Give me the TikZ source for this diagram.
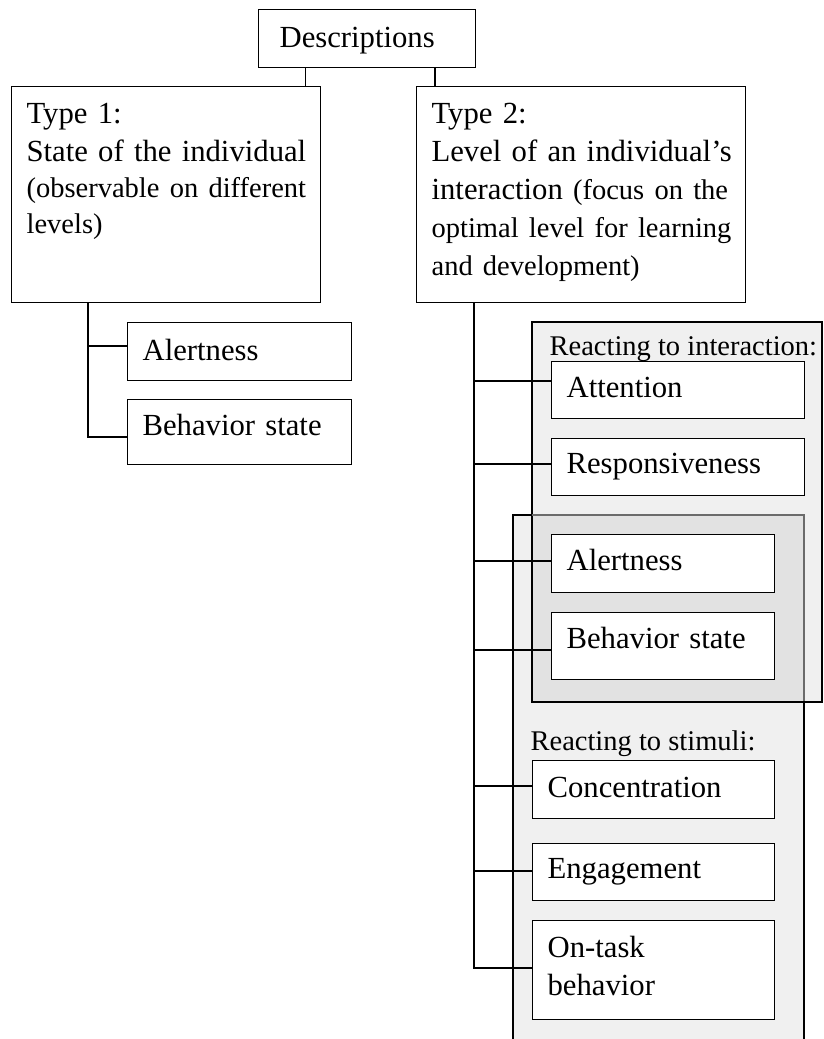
\documentclass[tikz,border=0pt]{standalone}
\usepackage{fontspec}
\setmainfont{Liberation Serif}
\setlength{\parindent}{0pt}
\newcommand{\bigtext}{\fontsize{30.7}{38}\selectfont}
\newcommand{\smalltext}{\fontsize{28.5}{36}\selectfont}

\begin{document}
\begin{tikzpicture}[x=1pt, y=-1pt, line width=1.2pt, font=\bigtext,
		item/.style={draw, fill=white, anchor=north west, align=left, inner xsep=15pt, inner ysep=0pt, text height=36pt},
		panel/.style={draw, fill=black, fill opacity=0.06},
		grouplabel/.style={anchor=base west, inner sep=0pt, font=\smalltext}]
	\useasboundingbox (0,0) rectangle (823,1039);
	\clip (0,0) rectangle (823,1039);
	% shaded groups (stimuli behind, interaction in front)
	\draw[panel] (513,515) rectangle (804,1060);
	\draw[panel] (532,322) rectangle (822,702);
	\draw[black!58] (532,515) -- (804,515) -- (804,701.4);
	\node[grouplabel] (interlabel) at (549,355) {Reacting to interaction:};
	\node[grouplabel] (stimlabel) at (530,750) {Reacting to stimuli:};
	% top levels
	\node[item, text width=175pt, inner xsep=21pt, text height=38pt, text depth=20pt] (desc) at (258,9) {Descriptions};
	\node[item, text width=279pt, text height=37pt, text depth=179pt] (type1) at (11,86)
		{\mbox{Type 1:}\\\mbox{State of the individual}\par
		\smalltext\mbox{(observable on different}\\\mbox{levels)}\par};
	\node[item, text width=299pt, text height=37pt, text depth=179pt] (type2) at (416,86)
		{\mbox{Type 2:}\\\mbox{Level of an individual’s}\\\mbox{interaction {\smalltext (focus on the}}\\
		\mbox{\smalltext optimal level for learning}\\\mbox{\smalltext and development)}};
	\draw ([xshift=-16pt]type1.north east) -- ([xshift=-16pt]type1.north east |- desc.south);
	\draw ([xshift=19pt]type2.north west) -- ([xshift=19pt]type2.north west |- desc.south);
	% type 1 items
	\node[item, text width=194pt, text height=38pt, text depth=20pt] (alert1) at (127,322) {Alertness};
	\node[item, text width=194pt, text depth=29pt] (behav1) at (127,399) {Behavior state};
	% type 2 items
	\node[item, text width=223pt, text depth=21pt] (attn) at (551,361) {Attention};
	\node[item, text width=223pt, text height=35pt, text depth=22pt] (resp) at (551,438) {Responsiveness};
	\node[item, text width=193pt, text depth=22pt] (alert2) at (551,534) {Alertness};
	\node[item, text width=193pt, text depth=31pt] (behav2) at (551,612) {Behavior state};
	\node[item, text width=212pt, text height=37pt, text depth=21pt] (conc) at (532,760) {Concentration};
	\node[item, text width=212pt, text height=35pt, text depth=22pt] (engage) at (532,843) {Engagement};
	\node[item, text width=212pt, text height=37pt, text depth=62pt] (ontask) at (532,920) {On-task\\behavior};
	% trunks and branches
	\coordinate (trunk1) at ([xshift=77pt]type1.south west);
	\foreach \n/\d in {alert1/24, behav1/38}
		\draw (trunk1) |- ([yshift=-\d]\n.north west);
	\coordinate (trunk2) at ([xshift=58pt]type2.south west);
	\foreach \n/\d in {attn/20, resp/26, alert2/27, behav2/38, conc/26, engage/28, ontask/48}
		\draw (trunk2) |- ([yshift=-\d]\n.north west);
\end{tikzpicture}
\end{document}
